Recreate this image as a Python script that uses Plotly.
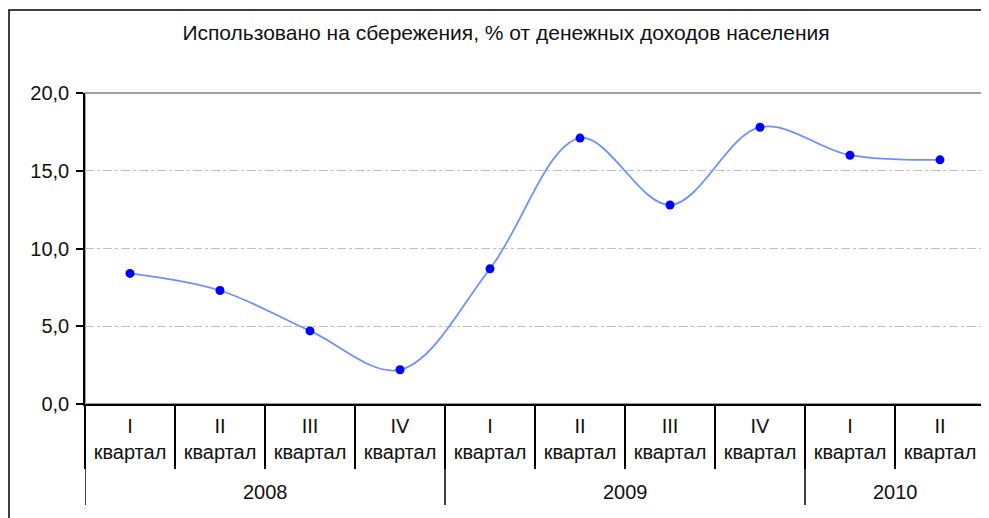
import plotly.graph_objects as go

years = ["2008", "2008", "2008", "2008", "2009", "2009", "2009", "2009", "2010", "2010"]
quarters = ["I", "II", "III", "IV", "I", "II", "III", "IV", "I", "II"]
quarter_word = "квартал"
values = [8.4, 7.3, 4.7, 2.2, 8.7, 17.1, 12.8, 17.8, 16.0, 15.7]
title = "Использовано на сбережения, % от денежных доходов населения"
y_ticks = [0, 5, 10, 15, 20]

n = len(values)
idx = list(range(n))
inner = [f"{q}<br>{quarter_word}" for q in quarters]
boundaries = [i - 0.5 for i in range(n + 1)]

# year groups derived from data
groups = []
for i, y in enumerate(years):
    if not groups or groups[-1][0] != y:
        groups.append([y, i, i])
    else:
        groups[-1][2] = i
year_bounds = [g[1] - 0.5 for g in groups] + [groups[-1][2] + 0.5]

font = "Liberation Sans, Arial, sans-serif"
FS = 20
H, W = 518, 989
OFF = 8  # page body margin
ml, mr, mt, mb = 77, 12, 85, 122
ph = H - mt - mb
pw = W - ml - mr


def py(page_pix):
    return (H - mb - (page_pix - OFF)) / ph


def px(page_pix):
    return (page_pix - OFF - ml) / pw


fig = go.Figure()
fig.add_trace(go.Scatter(
    x=idx,
    y=values,
    mode="lines+markers",
    line=dict(color="#6F8EFF", width=1.8, shape="spline", smoothing=1.0),
    marker=dict(color="#0000FF", size=9),
    showlegend=False,
))

annotations = [
    dict(text=g[0], x=(g[1] + g[2]) / 2, y=py(492), xref="x", yref="paper",
         showarrow=False, yanchor="middle", xanchor="center",
         font=dict(family=font, size=FS, color="#111111"))
    for g in groups
]

shapes = [
    dict(type="rect", xref="paper", yref="paper", x0=0, x1=1, y0=0, y1=1,
         line=dict(color="#A0A0A0", width=2), layer="below"),
    dict(type="rect", xref="paper", yref="paper", x0=-(ml - 1) / pw, x1=1.5, y0=-1, y1=py(10),
         line=dict(color="#000000", width=1.5), layer="below"),
]
for b in year_bounds:
    shapes.append(dict(type="line", xref="x", yref="paper", x0=b, x1=b, y0=0, y1=py(505),
                       line=dict(color="#000000", width=1.5)))

fig.update_layout(
    width=W, height=H,
    margin=dict(l=ml, r=mr, t=mt, b=mb),
    paper_bgcolor="white", plot_bgcolor="white",
    separators=", ",
    title=dict(text=title, x=px(506), xref="paper", xanchor="center",
               y=1 - (33 - OFF) / H, yanchor="middle",
               font=dict(family=font, size=21, color="#111111")),
    font=dict(family=font, size=FS, color="#111111"),
    xaxis=dict(
        range=[-0.5, n - 0.5], tickvals=idx, ticktext=inner,
        showline=True, linecolor="#000000", linewidth=1.5,
        ticks="", showgrid=False, zeroline=False, automargin=False,
        minor=dict(tickvals=boundaries, ticks="outside", ticklen=63,
                   tickcolor="#000000", tickwidth=1.5, showgrid=False),
        tickfont=dict(family=font, size=FS, color="#111111"),
        ticklabelstandoff=3,
    ),
    yaxis=dict(
        range=[0, 20], tickvals=y_ticks, tickformat=".1f",
        showline=True, linecolor="#000000", linewidth=1.5,
        ticks="outside", ticklen=7, tickcolor="#000000", tickwidth=1.5,
        showgrid=True, gridcolor="#C0C0C0", gridwidth=1, griddash="dashdot",
        zeroline=False, automargin=False,
        tickfont=dict(family=font, size=FS, color="#111111"),
        ticklabelstandoff=3,
    ),
    annotations=annotations,
    shapes=shapes,
)

fig.write_html("out.html")
